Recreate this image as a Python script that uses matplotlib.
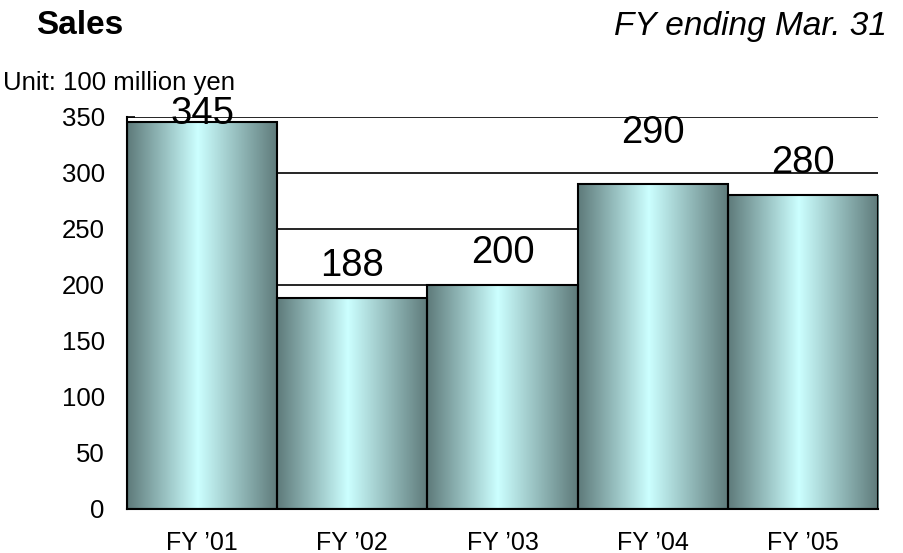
import numpy as np
import matplotlib
matplotlib.use("Agg")
import matplotlib.pyplot as plt
from matplotlib.colors import LinearSegmentedColormap
from matplotlib.patches import Rectangle

plt.rcParams['font.family'] = ['Liberation Sans', 'DejaVu Sans']

# Data
categories = ["FY \u201901", "FY \u201902", "FY \u201903", "FY \u201904", "FY \u201905"]
sales = [345, 188, 200, 290, 280]
yticks = [0, 50, 100, 150, 200, 250, 300, 350]

# Label offsets above each bar top (points)
label_offsets = [6, 23, 23, 37, 23]

fig = plt.figure(figsize=(9.04, 5.53), dpi=100)
ax = fig.add_axes([127 / 904, 1 - 509 / 553, (878 - 127) / 904, (509 - 116.7) / 553])

# Horizontal gridlines behind bars
for yv in yticks[1:]:
    ax.axhline(yv, color='black', lw=1.2, zorder=1)

# Horizontal metallic gradient for the bars
cmap = LinearSegmentedColormap.from_list(
    "steel", [(0.0, "#5e7a7a"), (0.47, "#ccffff"), (1.0, "#5e7a7a")])
t = np.linspace(0, 1, 256)
grad = np.vstack([t, t])

bars = ax.bar(range(len(sales)), sales, width=1.0, color='none',
              edgecolor='black', linewidth=1.5, zorder=3)
for rect in bars:
    x0, w, h = rect.get_x(), rect.get_width(), rect.get_height()
    im = ax.imshow(grad, cmap=cmap, aspect='auto', interpolation='bilinear',
                   extent=(x0, x0 + w, 0, h), zorder=2)
    clip = Rectangle((x0, 0), w, h, transform=ax.transData)
    im.set_clip_path(clip)

ax.set_xlim(-0.5, len(sales) - 0.5)
ax.set_ylim(0, 350)

# Value labels
for i, (v, off) in enumerate(zip(sales, label_offsets)):
    ax.annotate(str(v), xy=(i, v), xytext=(0, off), textcoords='offset points',
                ha='center', va='center', fontsize=27.5, color='black',
                zorder=5, annotation_clip=False)

ax.set_xticks(range(len(sales)))
ax.set_xticklabels(categories, fontsize=18)
ax.set_yticks(yticks)
ax.set_yticklabels([str(v) for v in yticks], fontsize=18.5)
ax.tick_params(axis='y', direction='in', length=6, width=1.2, pad=16)
ax.tick_params(axis='x', length=0, pad=15.5)

for side in ('top', 'right'):
    ax.spines[side].set_visible(False)
for side in ('left', 'bottom'):
    ax.spines[side].set_linewidth(1.5)
    ax.spines[side].set_zorder(4)

fig.text(36 / 904, 1 - 26 / 553, "Sales", fontsize=24, fontweight='bold',
         ha='left', va='center')
fig.text(887 / 904, 1 - 27 / 553, "FY ending Mar. 31", fontsize=24,
         fontstyle='italic', ha='right', va='center')
fig.text(3 / 904, 1 - 83 / 553, "Unit: 100 million yen", fontsize=18.5,
         ha='left', va='center')

fig.savefig("out.png", dpi=100)
